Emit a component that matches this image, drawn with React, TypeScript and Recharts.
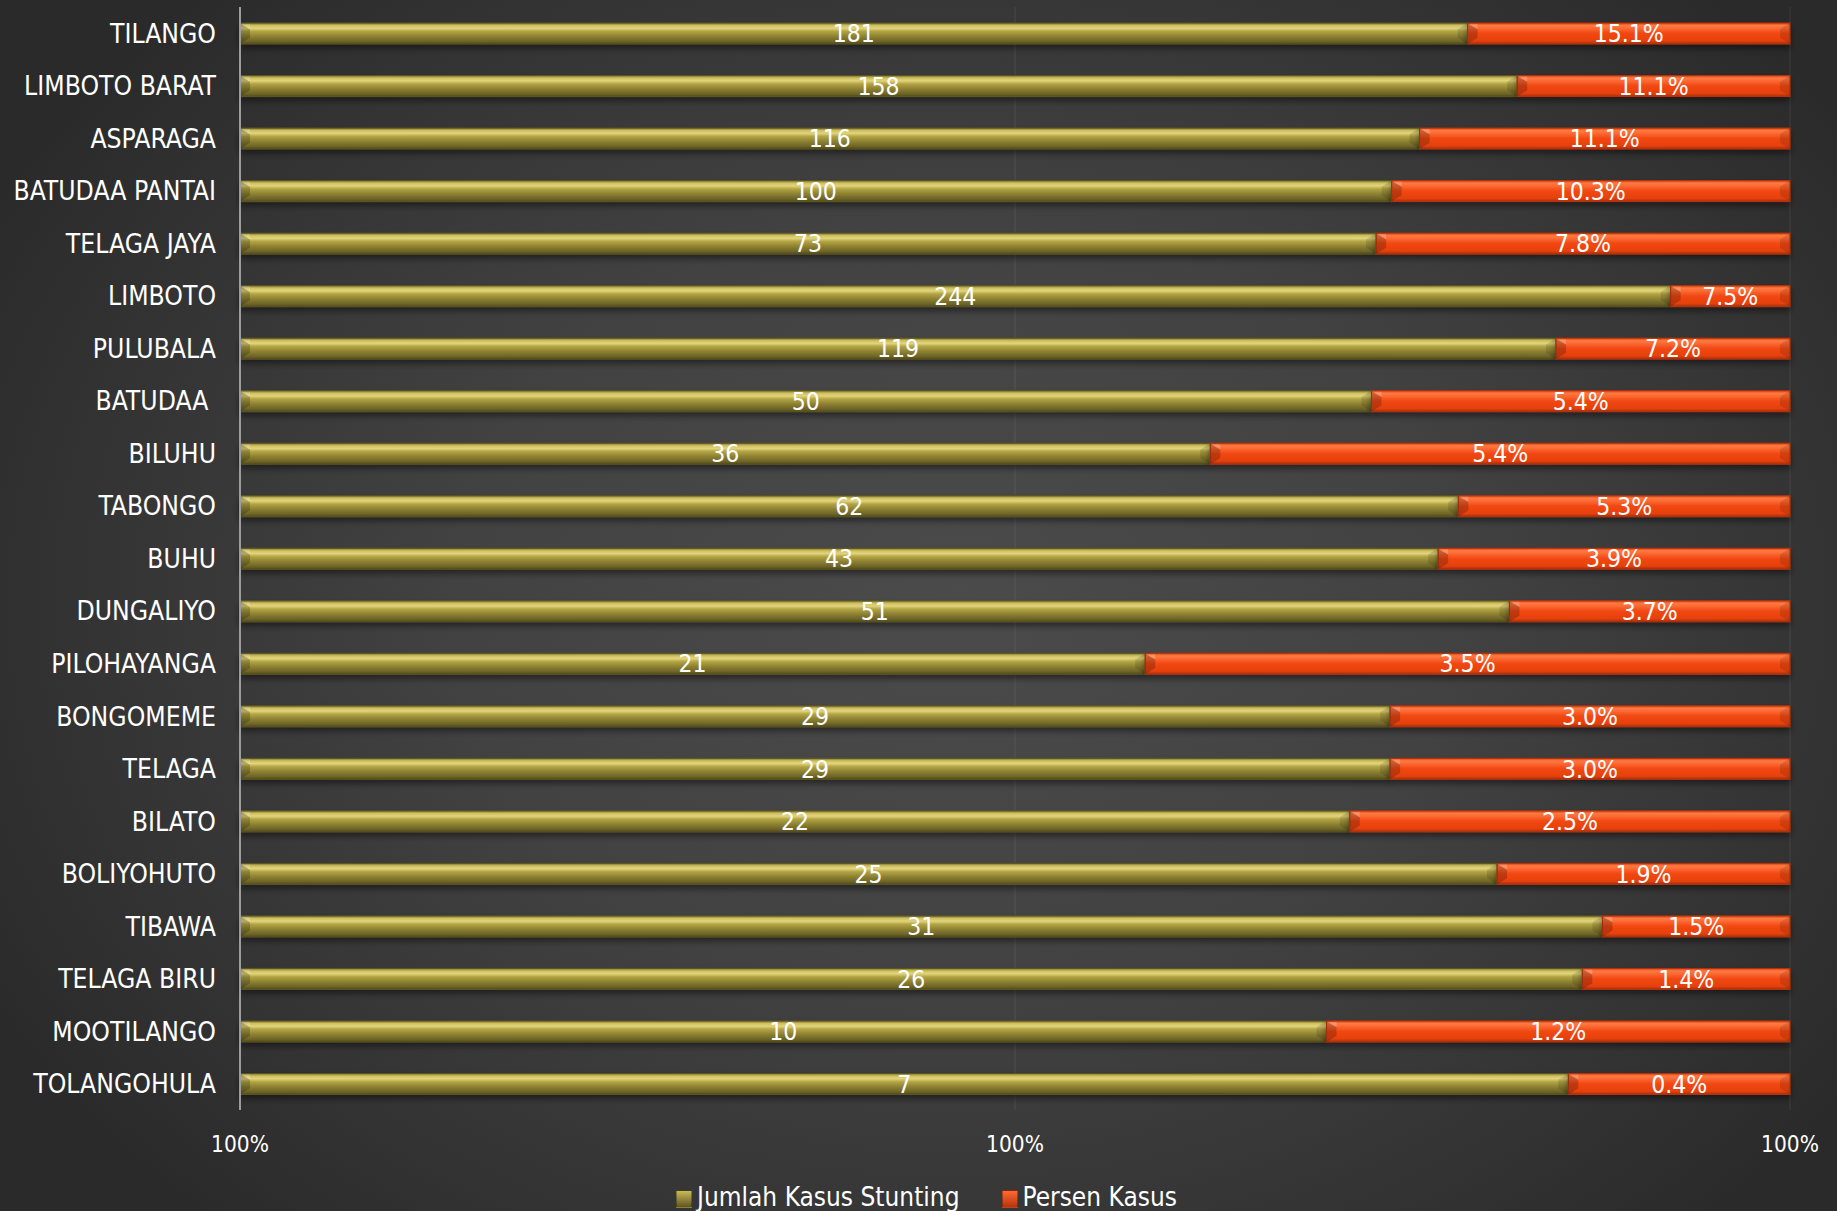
import React from 'react';
import { Bar, BarChart, CartesianGrid, LabelList, XAxis, YAxis } from 'recharts';

// kecamatan, top to bottom
const categories = [
  'TILANGO', 'LIMBOTO BARAT', 'ASPARAGA', 'BATUDAA PANTAI', 'TELAGA JAYA', 'LIMBOTO', 'PULUBALA',
  'BATUDAA ', 'BILUHU', 'TABONGO', 'BUHU', 'DUNGALIYO', 'PILOHAYANGA', 'BONGOMEME', 'TELAGA',
  'BILATO', 'BOLIYOHUTO', 'TIBAWA', 'TELAGA BIRU', 'MOOTILANGO', 'TOLANGOHULA',
];

// printed labels
const jumlahKasus = [181, 158, 116, 100, 73, 244, 119, 50, 36, 62, 43, 51, 21, 29, 29, 22, 25, 31, 26, 10, 7];
const persenKasus = [15.1, 11.1, 11.1, 10.3, 7.8, 7.5, 7.2, 5.4, 5.4, 5.3, 3.9, 3.7, 3.5, 3.0, 3.0, 2.5, 1.9, 1.5, 1.4, 1.2, 0.4];

// segment lengths as drawn (share of the 100% bar)
const jumlahBar = [79.2, 82.4, 76.1, 74.3, 73.3, 92.3, 84.9, 73.0, 62.6, 78.6, 77.3, 81.9, 58.4, 74.2, 74.2, 71.6, 81.1, 87.9, 86.6, 70.1, 85.7];
const persenBar = [20.8, 17.6, 23.9, 25.7, 26.7, 7.7, 15.1, 27.0, 37.4, 21.4, 22.7, 18.1, 41.6, 25.8, 25.8, 28.4, 18.9, 12.1, 13.4, 29.9, 14.3];

const xTicks = [0, 0.5, 1];
const xTickLabels = ['100%', '100%', '100%'];

const seriesNames = ['Jumlah Kasus Stunting', 'Persen Kasus'];

const FONT = '"DejaVu Sans Condensed", "DejaVu Sans", sans-serif';

const rows = categories.map((name, i) => ({
  name,
  jumlah: jumlahBar[i],
  persen: persenBar[i],
  jumlahLabel: jumlahKasus[i],
  persenLabel: persenKasus[i],
}));

function BevelBar(props: any) {
  const { x, y, width, height, fill, edge } = props;
  if (!width || width <= 0) return null;
  const b = Math.min(10, width / 2);
  return (
    <g filter="url(#barShadow)">
      <rect x={x} y={y} width={width} height={height} fill={fill} stroke={edge} strokeWidth={1} />
      <polygon
        points={`${x},${y} ${x + b},${y + height * 0.3} ${x + b},${y + height * 0.7} ${x},${y + height}`}
        fill="rgba(0,0,0,0.2)"
      />
      <polygon points={`${x},${y + 1} ${x + b},${y + height * 0.3} ${x + b},${y + 1}`} fill="rgba(255,255,255,0.2)" />
      <polygon
        points={`${x + width},${y} ${x + width - b},${y + height * 0.3} ${x + width - b},${y + height * 0.7} ${x + width},${y + height}`}
        fill="rgba(0,0,0,0.12)"
      />
    </g>
  );
}

function CategoryTick({ x, y, payload }: any) {
  return (
    <text x={x} y={y} dy="0.36em" textAnchor="end" fill="#fff" fontSize={26.3} fontFamily={FONT} style={{ whiteSpace: 'pre' }}>
      {payload.value}
    </text>
  );
}

function LegendBox({ from, to }: { from: string; to: string }) {
  return (
    <span
      style={{
        display: 'inline-block',
        width: 14,
        height: 16,
        marginRight: 5,
        background: `linear-gradient(${from}, ${to})`,
        border: '1px solid rgba(0,0,0,0.3)',
        verticalAlign: 'middle',
      }}
    />
  );
}

export default function App() {
  return (
    <div
      style={{
        position: 'absolute',
        left: 0,
        top: 0,
        width: 1837,
        height: 1211,
        overflow: 'hidden',
        background: 'radial-gradient(ellipse 60% 70% at 52% 50%, #4b4b4b 0%, #424242 45%, #333333 80%, #2a2a2a 100%)',
        fontFamily: FONT,
      }}
    >
      <BarChart
        width={1837}
        height={1211}
        data={rows}
        layout="vertical"
        stackOffset="expand"
        barSize={21}
        margin={{ top: 7, right: 47, bottom: 61, left: 0 }}
      >
        <defs>
          <linearGradient id="olive" x1="0" y1="0" x2="0" y2="1">
            <stop offset="0%" stopColor="#7a7030" />
            <stop offset="12%" stopColor="#cfc15e" />
            <stop offset="25%" stopColor="#e2d47c" />
            <stop offset="40%" stopColor="#b2a443" />
            <stop offset="65%" stopColor="#8b7f31" />
            <stop offset="88%" stopColor="#6c6327" />
            <stop offset="100%" stopColor="#504919" />
          </linearGradient>
          <linearGradient id="orange" x1="0" y1="0" x2="0" y2="1">
            <stop offset="0%" stopColor="#d8400f" />
            <stop offset="12%" stopColor="#ff7a42" />
            <stop offset="28%" stopColor="#fb6630" />
            <stop offset="50%" stopColor="#f14712" />
            <stop offset="85%" stopColor="#e6410e" />
            <stop offset="100%" stopColor="#a52f0a" />
          </linearGradient>
          <filter id="barShadow" x="-5%" y="-50%" width="110%" height="250%">
            <feDropShadow dx="0" dy="4" stdDeviation="3" floodColor="#000" floodOpacity="0.45" />
          </filter>
        </defs>
        <CartesianGrid horizontal={false} stroke="rgba(255,255,255,0.09)" />
        <XAxis
          type="number"
          domain={[0, 1]}
          ticks={xTicks}
          tickFormatter={(_v: number, i: number) => xTickLabels[i]}
          axisLine={false}
          tickLine={false}
          tickSize={0}
          tickMargin={26}
          height={40}
          tick={{ fill: '#fff', fontSize: 22.5, fontFamily: FONT }}
        />
        <YAxis
          type="category"
          dataKey="name"
          width={240}
          tick={<CategoryTick />}
          tickLine={false}
          tickSize={0}
          tickMargin={24}
          axisLine={{ stroke: '#9c9c9c', strokeWidth: 2 }}
          interval={0}
        />
        <Bar
          dataKey="jumlah"
          name={seriesNames[0]}
          stackId="a"
          fill="url(#olive)"
          shape={(p: any) => <BevelBar {...p} edge="#5d5522" />}
          isAnimationActive={false}
        >
          <LabelList dataKey="jumlahLabel" position="center" fill="#fff" fontSize={24.5} fontFamily={FONT} />
        </Bar>
        <Bar
          dataKey="persen"
          name={seriesNames[1]}
          stackId="a"
          fill="url(#orange)"
          shape={(p: any) => <BevelBar {...p} edge="#b3330b" />}
          isAnimationActive={false}
        >
          <LabelList
            dataKey="persenLabel"
            position="center"
            fill="#fff"
            fontSize={24.5}
            fontFamily={FONT}
            formatter={(v: any) => `${Number(v).toFixed(1)}%`}
          />
        </Bar>
      </BarChart>
      <div
        style={{
          position: 'absolute',
          left: 8,
          top: 1182,
          width: 1837,
          display: 'flex',
          justifyContent: 'center',
          color: '#fff',
          fontSize: 26,
          lineHeight: '30px',
        }}
      >
        <span style={{ marginRight: 42 }}>
          <LegendBox from="#c9bb58" to="#5e5522" />
          {seriesNames[0]}
        </span>
        <span>
          <LegendBox from="#ff6a33" to="#b8330c" />
          {seriesNames[1]}
        </span>
      </div>
    </div>
  );
}
